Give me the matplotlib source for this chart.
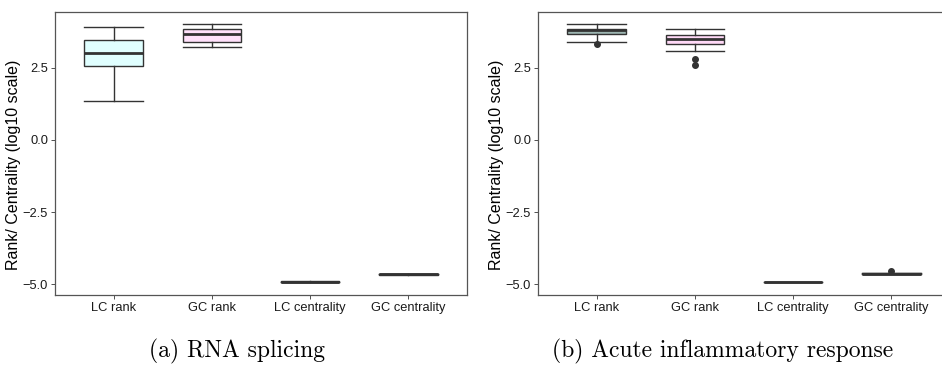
import numpy as np
import matplotlib.pyplot as plt

categories = ['LC rank', 'GC rank', 'LC centrality', 'GC centrality']
yticks = [-5.0, -2.5, 0.0, 2.5]

# five-number summaries (log10 scale): whislo, q1, med, q3, whishi
splicing_lo = [1.35, 3.24, -4.92, -4.66]
splicing_q1 = [2.56, 3.40, -4.935, -4.685]
splicing_med = [3.03, 3.66, -4.92, -4.665]
splicing_q3 = [3.48, 3.86, -4.905, -4.64]
splicing_hi = [3.92, 4.02, -4.92, -4.66]
splicing_fliers = [[], [], [], []]
splicing_colors = ['#E0FFFF', '#FFE1FB', '#E0FFFF', '#FFE1FB']

inflam_lo = [3.41, 3.09, -4.92, -4.64]
inflam_q1 = [3.68, 3.33, -4.925, -4.655]
inflam_med = [3.80, 3.50, -4.92, -4.635]
inflam_q3 = [3.86, 3.63, -4.915, -4.615]
inflam_hi = [4.02, 3.85, -4.92, -4.63]
inflam_fliers = [[3.34], [2.82, 2.59], [], [-4.55]]
inflam_colors = ['#9CB4B0', '#FFD9F7', '#9CB4B0', '#FFD9F7']

captions = ['(a) RNA splicing', '(b) Acute inflammatory response']

plt.rcParams['font.family'] = ['Liberation Sans', 'DejaVu Sans']

W, H = 942, 370
fig = plt.figure(figsize=(W / 100, H / 100), dpi=100)


def stats_list(lo, q1, med, q3, hi, fl):
    return [dict(whislo=a, q1=b, med=c, q3=d, whishi=e, fliers=f, label=n)
            for a, b, c, d, e, f, n in zip(lo, q1, med, q3, hi, fl, categories)]


def draw_panel(left, stats, colors, caption, cap_x):
    ax = fig.add_axes([left / W, (H - 295) / H, 412 / W, 283 / H])
    pos = np.arange(1, len(categories) + 1)
    bp = ax.bxp(stats, positions=pos, widths=0.6, capwidths=[0.6] * 4,
                patch_artist=True, showfliers=True,
                boxprops=dict(edgecolor='#333333', linewidth=1.0),
                whiskerprops=dict(color='#333333', linewidth=1.0),
                capprops=dict(color='#333333', linewidth=1.0),
                medianprops=dict(color='#333333', linewidth=2.0),
                flierprops=dict(marker='o', markerfacecolor='#333333',
                                markeredgecolor='#333333', markersize=4))
    for patch, c in zip(bp['boxes'], colors):
        patch.set_facecolor(c)
    ax.set_xlim(0.4, 4.6)
    ax.set_ylim(-5.38, 4.44)
    ax.set_xticks(pos)
    ax.set_xticklabels(categories)
    ax.set_yticks(yticks)
    ax.set_yticklabels([f'{v:.1f}'.replace('-', '\u2212') for v in yticks])
    ax.tick_params(axis='both', length=3, width=0.6, color='#333333',
                   labelsize=9.3, labelcolor='#1a1a1a', pad=2)
    for sp in ax.spines.values():
        sp.set_color('#555555')
        sp.set_linewidth(0.9)
    ax.set_ylabel('Rank/ Centrality (log10 scale)', fontsize=11.5,
                  color='black', va='center')
    ax.yaxis.set_label_coords(-0.1, 0.46)
    fig.text(cap_x / W, 1 - 351 / H, caption, fontfamily='cmr10',
             fontsize=17, ha='center', va='center')
    return ax


draw_panel(55, stats_list(splicing_lo, splicing_q1, splicing_med, splicing_q3,
                          splicing_hi, splicing_fliers),
           splicing_colors, captions[0], 237)
draw_panel(538, stats_list(inflam_lo, inflam_q1, inflam_med, inflam_q3,
                           inflam_hi, inflam_fliers),
           inflam_colors, captions[1], 723)

fig.savefig('out.png', dpi=100)
